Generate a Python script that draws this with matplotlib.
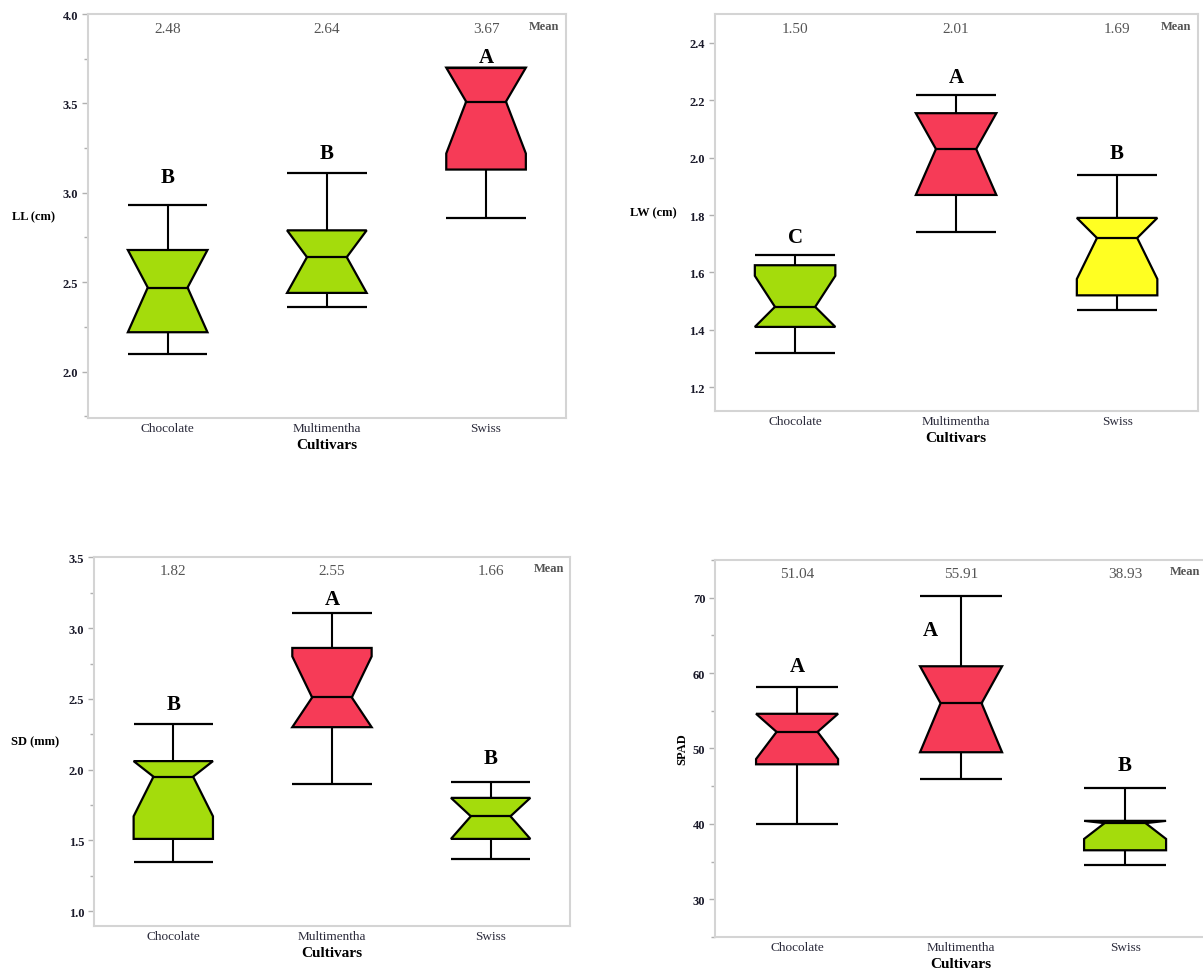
import matplotlib
matplotlib.use("Agg")
import matplotlib.pyplot as plt
from matplotlib.ticker import MultipleLocator

plt.rcParams['font.family'] = ['Liberation Serif', 'DejaVu Serif']

cultivars = ["Chocolate", "Multimentha", "Swiss"]

GREEN = "#a4dc0c"
RED = "#f63b57"
YELLOW = "#ffff22"

# LL (cm)
ll_whislo = [2.10, 2.36, 2.86]
ll_q1 = [2.22, 2.44, 3.13]
ll_med = [2.47, 2.64, 3.51]
ll_q3 = [2.68, 2.79, 3.70]
ll_whishi = [2.93, 3.11, 3.70]
ll_notch_lo = [2.22, 2.44, 3.22]
ll_notch_hi = [2.68, 2.79, 3.70]
ll_means = ["2.48", "2.64", "3.67"]
ll_letters = ["B", "B", "A"]
ll_letter_y = [3.09, 3.22, 3.76]

# LW (cm)
lw_whislo = [1.32, 1.74, 1.47]
lw_q1 = [1.41, 1.87, 1.52]
lw_med = [1.48, 2.03, 1.72]
lw_q3 = [1.625, 2.155, 1.79]
lw_whishi = [1.66, 2.22, 1.94]
lw_notch_lo = [1.41, 1.87, 1.577]
lw_notch_hi = [1.588, 2.155, 1.79]
lw_means = ["1.50", "2.01", "1.69"]
lw_letters = ["C", "A", "B"]
lw_letter_y = [1.725, 2.282, 2.017]

# SD (mm)
sd_whislo = [1.35, 1.90, 1.37]
sd_q1 = [1.51, 2.30, 1.51]
sd_med = [1.95, 2.51, 1.67]
sd_q3 = [2.06, 2.86, 1.80]
sd_whishi = [2.32, 3.11, 1.91]
sd_notch_lo = [1.67, 2.30, 1.51]
sd_notch_hi = [2.06, 2.80, 1.80]
sd_means = ["1.82", "2.55", "1.66"]
sd_letters = ["B", "A", "B"]
sd_letter_y = [2.467, 3.205, 2.083]

# SPAD
sp_whislo = [40.0, 45.9, 34.6]
sp_q1 = [47.9, 49.5, 36.5]
sp_med = [52.2, 56.0, 40.1]
sp_q3 = [54.6, 60.9, 40.4]
sp_whishi = [58.1, 70.2, 44.8]
sp_notch_lo = [48.6, 49.5, 38.0]
sp_notch_hi = [54.6, 60.9, 40.4]
sp_means = ["51.04", "55.91", "38.93"]
sp_letters = ["A", "A", "B"]
sp_letter_y = [61.0, 65.7, 47.8]


def notched(ax, whislo, q1, med, q3, whishi, nlo, nhi, colors, w=0.5):
    for i in range(len(med)):
        x0, x1 = i - w / 2, i + w / 2
        ins = w / 4
        lo = max(nlo[i], q1[i])
        hi = min(nhi[i], q3[i])
        xs = [x0, x0, x0 + ins, x0, x0, x1, x1, x1 - ins, x1, x1]
        ys = [q1[i], lo, med[i], hi, q3[i], q3[i], hi, med[i], lo, q1[i]]
        ax.fill(xs, ys, facecolor=colors[i], edgecolor="black", lw=1.6,
                joinstyle="miter", zorder=3)
        ax.plot([x0 + ins, x1 - ins], [med[i], med[i]], color="black", lw=1.6, zorder=4)
        ax.vlines(i, whishi[i], q3[i], color="black", lw=1.5, zorder=2)
        ax.vlines(i, q1[i], whislo[i], color="black", lw=1.5, zorder=2)
        ax.hlines([whislo[i], whishi[i]], x0, x1, color="black", lw=1.6, zorder=4)


def style(ax, ylabel, ylim, major, minor, means, letters, letter_y, lab_x,
          rot=0, letter_dx=(0, 0, 0)):
    ax.set_xlim(-0.5, 2.5)
    ax.set_ylim(*ylim)
    ax.yaxis.set_major_locator(MultipleLocator(major))
    if minor:
        ax.yaxis.set_minor_locator(MultipleLocator(minor))
    for s in ax.spines.values():
        s.set_color("#d4d4d4")
        s.set_linewidth(1.5)
    ax.tick_params(axis="y", which="both", colors="#b0b0b0", length=4, width=1,
                   labelcolor="#1a1a2a", labelsize=9, pad=3)
    ax.tick_params(axis="y", which="minor", length=3)
    for t in ax.get_yticklabels():
        t.set_fontweight("bold")
    ax.set_xticks(range(3))
    ax.set_xticklabels(cultivars, fontsize=9.5, color="#2a2a3a")
    ax.tick_params(axis="x", length=0, pad=3)
    ax.set_xlabel("Cultivars", fontsize=11, fontweight="bold", labelpad=3)
    ax.set_ylabel(ylabel, fontsize=9, fontweight="bold", rotation=rot,
                  va="center", ha="center")
    ax.yaxis.set_label_coords(lab_x, 0.5)
    tr = ax.get_xaxis_transform()
    for i, m in enumerate(means):
        ax.text(i, 0.965, m, transform=tr, ha="center", va="center",
                fontsize=11, color="#555555")
    ax.text(0.955, 0.97, "Mean", transform=ax.transAxes, ha="center",
            va="center", fontsize=9, fontweight="bold", color="#555555")
    for i, (l, y) in enumerate(zip(letters, letter_y)):
        ax.text(i + letter_dx[i], y, l, ha="center", va="center", fontsize=15,
                fontweight="bold", color="black", zorder=5)


fig = plt.figure(figsize=(12.03, 9.70), dpi=100)

ax1 = fig.add_axes([0.0732, 0.568, 0.397, 0.4165])
notched(ax1, ll_whislo, ll_q1, ll_med, ll_q3, ll_whishi, ll_notch_lo, ll_notch_hi,
        [GREEN, GREEN, RED])
style(ax1, "LL (cm)", (1.74, 4.0), 0.5, 0.25, ll_means, ll_letters, ll_letter_y, -0.114)

ax2 = fig.add_axes([0.594, 0.5753, 0.4015, 0.409])
notched(ax2, lw_whislo, lw_q1, lw_med, lw_q3, lw_whishi, lw_notch_lo, lw_notch_hi,
        [GREEN, RED, YELLOW])
style(ax2, "LW (cm)", (1.117, 2.5), 0.2, None, lw_means, lw_letters, lw_letter_y, -0.126)

ax3 = fig.add_axes([0.0781, 0.0443, 0.3957, 0.380])
notched(ax3, sd_whislo, sd_q1, sd_med, sd_q3, sd_whishi, sd_notch_lo, sd_notch_hi,
        [GREEN, RED, GREEN])
style(ax3, "SD (mm)", (0.894, 3.5), 0.5, 0.25, sd_means, sd_letters, sd_letter_y, -0.124)

ax4 = fig.add_axes([0.5944, 0.033, 0.409, 0.3887])
notched(ax4, sp_whislo, sp_q1, sp_med, sp_q3, sp_whishi, sp_notch_lo, sp_notch_hi,
        [RED, RED, GREEN])
style(ax4, "SPAD", (25, 75), 10, 5, sp_means, sp_letters, sp_letter_y, -0.067,
      rot=90, letter_dx=(0, -0.19, 0))

fig.savefig("out.png", dpi=100)
